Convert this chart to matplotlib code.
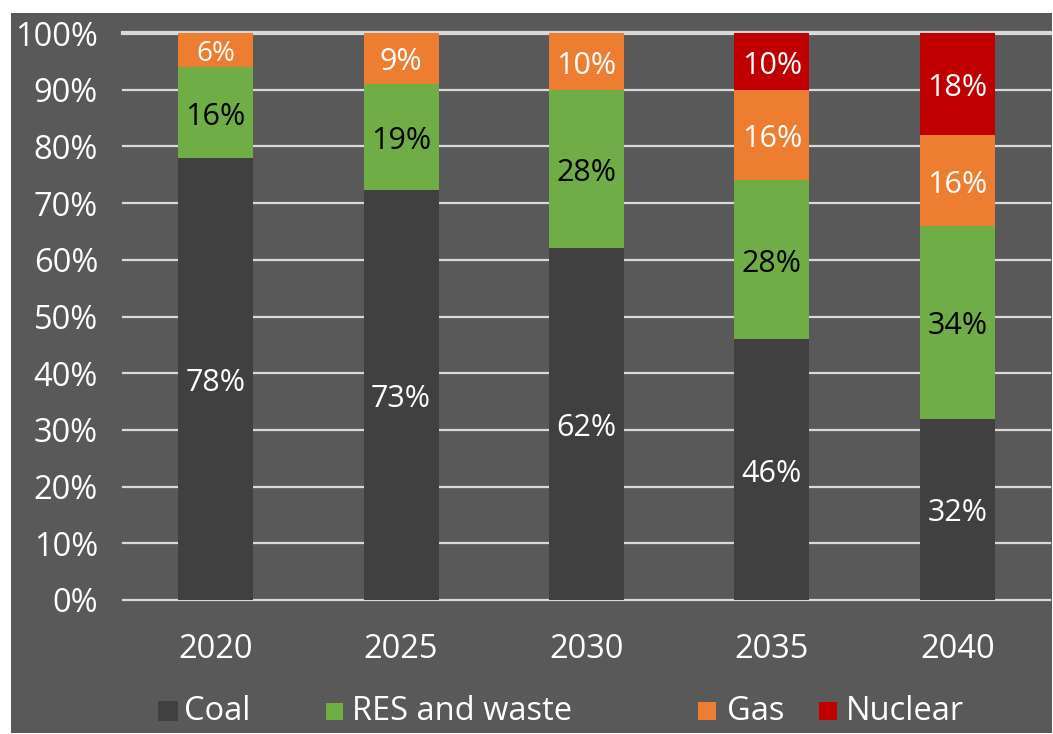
import matplotlib
matplotlib.use("Agg")
import matplotlib.pyplot as plt
from matplotlib.patches import Rectangle
from matplotlib.transforms import offset_copy
import numpy as np

years = ["2020", "2025", "2030", "2035", "2040"]
series_names = ["Coal", "RES and waste", "Gas", "Nuclear"]
coal = [78, 73, 62, 46, 32]
res_waste = [16, 19, 28, 28, 34]
gas = [6, 9, 10, 16, 16]
nuclear = [0, 0, 0, 10, 18]
yticks = [0, 10, 20, 30, 40, 50, 60, 70, 80, 90, 100]

colors = ["#404040", "#70AD47", "#ED7D31", "#C00000"]
label_colors = ["white", "black", "white", "white"]
panel_bg = "#595959"
grid_col = "#d9d9d9"

plt.rcParams["font.family"] = ["Open Sans", "DejaVu Sans"]

W, H = 1053, 734
fig = plt.figure(figsize=(W / 100, H / 100), dpi=100, facecolor="white")

# dark panel behind everything
fig.patches.append(Rectangle((11 / W, 1 / H), (1052 - 11) / W, (733 - 1 - 12) / H,
                             transform=fig.transFigure, facecolor=panel_bg,
                             edgecolor="none", zorder=-5))

ax = fig.add_axes([123 / W, (H - 600) / H, (1050 - 123) / W, (600 - 33) / H])
ax.set_facecolor("none")

data = np.array([coal, res_waste, gas, nuclear], dtype=float)
totals = data.sum(axis=0)
shares = data / totals * 100.0

# value labels sit a touch below the segment centre
label_tf = offset_copy(ax.transData, fig=fig, x=0, y=-3, units="points")

x = np.arange(len(years))
bottom = np.zeros(len(years))
for i, name in enumerate(series_names):
    ax.bar(x, shares[i], bottom=bottom, width=0.405, color=colors[i],
           edgecolor="none", zorder=3, label=name)
    for j in range(len(years)):
        if data[i, j] > 0:
            size = 20 if shares[i, j] < 8 else 22
            ax.text(x[j], bottom[j] + shares[i, j] / 2, f"{int(data[i, j])}%",
                    ha="center", va="center", color=label_colors[i],
                    fontsize=size, zorder=4, transform=label_tf)
    bottom += shares[i]

ax.set_xlim(-0.5, len(years) - 0.5)
ax.set_ylim(0, 100)

for t in yticks:
    ax.axhline(t, color=grid_col, lw=3 if t == 100 else 1.6, zorder=1, clip_on=False)

for s in ax.spines.values():
    s.set_visible(False)

ax.set_yticks(yticks)
ax.set_yticklabels([f"{t}%" for t in yticks])
ax.set_xticks(x)
ax.set_xticklabels(years)
ax.tick_params(axis="y", length=0, pad=18, labelsize=23.5, labelcolor="white")
ax.tick_params(axis="x", length=0, pad=24, labelsize=23.5, labelcolor="white")

# legend row
leg_y = 711
legend_sq = [(158, 20), (326, 17), (698, 18), (819, 18)]
legend_tx = [184, 352, 727, 846]
for i, name in enumerate(series_names):
    sx, sw = legend_sq[i]
    fig.patches.append(Rectangle((sx / W, (H - leg_y - sw / 2) / H), sw / W, sw / H,
                                 transform=fig.transFigure, facecolor=colors[i],
                                 edgecolor="none", zorder=2))
    fig.text(legend_tx[i] / W, (H - leg_y) / H, name, ha="left", va="center",
             color="white", fontsize=23.5)

fig.savefig("out.png", dpi=100, facecolor="white")
